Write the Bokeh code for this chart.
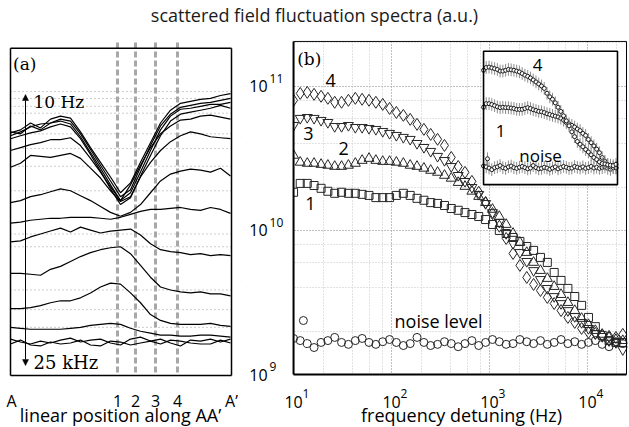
import math
from bokeh.plotting import figure
from bokeh.layouts import column, row
from bokeh.models import Range1d, Arrow, NormalHead, LogScale, LogTicker
from bokeh.core.properties import value
from bokeh.embed import file_html
from bokeh.resources import INLINE

SANS = "Open Sans"
SERIF = "DejaVu Serif"
TITLE = "scattered field fluctuation spectra (a.u.)"
A_XLABEL = "linear position along AA\u2019"
B_XLABEL = "frequency detuning (Hz)"

# ---------------- panel (a): traces along AA' (offset spectra, a.u., top = 10 Hz) ----------------
a_position = [0, 1, 2, 3, 4, 5, 6, 7, 8, 9, 10, 11, 12, 13, 14, 15, 16, 17, 18, 19, 20, 21, 22]
a_tick_pos = [0.1, 10.7, 12.5, 14.5, 16.7, 22.1]
a_tick_labels = ["A", "1", "2", "3", "4", "A\u2019"]
a_marker_pos = [10.7, 12.5, 14.5, 16.7]
a_grid_levels = [85, 92, 100, 107, 128, 143, 161, 186, 230, 243, 287, 307, 325]

a_trace_01 = [127, 124, 117, 122, 113, 110, 112, 126, 142, 157, 172, 188, 178, 157, 137, 117, 104, 97, 95, 93, 92, 89, 87]
a_trace_02 = [130, 126, 121, 118, 117, 113, 115, 128, 144, 160, 176, 192, 185, 162, 140, 120, 108, 101, 99, 97, 96, 94, 92]
a_trace_03 = [126, 128, 120, 124, 117, 115, 118, 131, 147, 163, 180, 196, 188, 167, 145, 124, 110, 103, 102, 100, 98, 98, 96]
a_trace_04 = [133, 130, 127, 125, 121, 118, 121, 133, 149, 166, 184, 200, 193, 171, 150, 130, 115, 108, 106, 104, 102, 99, 102]
a_trace_05 = [145, 142, 139, 137, 134, 134, 132, 140, 153, 167, 182, 196, 180, 160, 142, 128, 120, 114, 113, 110, 109, 111, 113]
a_trace_06 = [162, 158, 150, 151, 152, 150, 148, 153, 163, 173, 186, 197, 192, 172, 157, 145, 136, 130, 126, 128, 131, 132, 133]
a_trace_07 = [198, 196, 192, 190, 187, 184, 186, 191, 196, 202, 208, 212, 208, 200, 188, 176, 169, 166, 164, 165, 167, 163, 171]
a_trace_08 = [219, 218, 216, 215, 214, 214, 213, 213, 213, 214, 215, 213, 210, 207, 205, 205, 204, 203, 205, 206, 203, 205, 209]
a_trace_09 = [238, 237, 233, 230, 227, 224, 228, 223, 226, 229, 227, 226, 225, 231, 240, 246, 248, 249, 251, 250, 252, 251, 252]
a_trace_10 = [270, 270, 271, 272, 266, 263, 258, 253, 249, 246, 244, 243, 250, 262, 274, 284, 287, 289, 290, 289, 291, 291, 293]
a_trace_11 = [306, 306, 305, 303, 300, 298, 298, 295, 290, 284, 280, 281, 290, 300, 312, 318, 321, 322, 322, 322, 321, 323, 324]
a_trace_12 = [325, 326, 327, 327, 327, 327, 326, 325, 323, 322, 321, 322, 326, 329, 331, 333, 333, 334, 334, 333, 333, 334, 335]
a_trace_13 = [337, 340, 342, 339, 341, 338, 336, 340, 338, 337, 341, 343, 337, 335, 339, 337, 341, 344, 338, 339, 337, 340, 337]
a_trace_14 = [342, 338, 343, 344, 340, 342, 341, 338, 343, 344, 339, 340, 343, 341, 339, 342, 338, 339, 341, 342, 342, 338, 341]
a_traces = [a_trace_01, a_trace_02, a_trace_03, a_trace_04, a_trace_05, a_trace_06, a_trace_07,
            a_trace_08, a_trace_09, a_trace_10, a_trace_11, a_trace_12, a_trace_13, a_trace_14]

# ---------------- panel (b): spectra vs frequency detuning ----------------
freq_hz = [10, 11.7, 13.8, 16.2, 19.1, 22.4, 26.3, 30.9, 36.3, 42.7,
           50.1, 58.9, 69.2, 81.3, 95.5, 112, 132, 155, 182, 214,
           251, 295, 347, 407, 479, 562, 661, 776, 912, 1072,
           1259, 1479, 1738, 2042, 2399, 2818, 3311, 3890, 4571, 5370,
           6310, 7413, 8710, 10233, 12023, 14125, 16596, 19498, 22909]
spec_1 = [1.84e10, 2.12e10, 2.12e10, 2.05e10, 1.96e10, 1.87e10, 1.81e10, 1.84e10, 1.81e10, 1.81e10,
          1.78e10, 1.75e10, 1.69e10, 1.69e10, 1.69e10, 1.75e10, 1.81e10, 1.75e10, 1.67e10, 1.62e10,
          1.56e10, 1.54e10, 1.49e10, 1.42e10, 1.38e10, 1.33e10, 1.29e10, 1.25e10, 1.19e10, 1.10e10,
          1.00e10, 9.53e9, 8.94e9, 8.39e9, 7.74e9, 7.27e9, 6.50e9, 6.00e9, 5.11e9, 4.50e9,
          3.96e9, 3.48e9, 3.02e9, 2.49e9, 2.15e9, 1.87e9, 1.72e9, 1.67e9, 1.67e9]
spec_2 = [3.32e10, 2.97e10, 2.92e10, 2.92e10, 2.87e10, 2.83e10, 2.78e10, 2.78e10, 2.83e10, 2.92e10,
          3.06e10, 3.16e10, 3.06e10, 3.01e10, 3.01e10, 2.97e10, 2.92e10, 2.83e10, 2.78e10, 2.70e10,
          2.61e10, 2.53e10, 2.41e10, 2.30e10, 2.15e10, 2.02e10, 1.87e10, 1.72e10, 1.56e10, 1.40e10,
          1.25e10, 1.10e10, 9.53e9, 8.26e9, 7.03e9, 6.00e9, 5.27e9, 4.64e9, 4.08e9, 3.59e9,
          3.16e9, 2.78e9, 2.45e9, 2.22e9, 2.02e9, 1.90e9, 1.81e9, 1.75e9, 1.72e9]
spec_3 = [5.36e10, 6.00e10, 6.09e10, 6.00e10, 5.81e10, 5.62e10, 5.27e10, 5.27e10, 5.36e10, 5.19e10,
          5.19e10, 5.11e10, 5.03e10, 4.87e10, 4.72e10, 4.57e10, 4.43e10, 4.29e10, 4.02e10, 3.77e10,
          3.54e10, 3.27e10, 3.06e10, 2.78e10, 2.41e10, 2.19e10, 1.99e10, 1.78e10, 1.54e10, 1.33e10,
          1.14e10, 9.53e9, 8.12e9, 7.03e9, 6.10e9, 5.27e9, 4.57e9, 3.96e9, 3.48e9, 3.11e9,
          2.78e9, 2.53e9, 2.30e9, 2.09e9, 1.93e9, 1.84e9, 1.72e9, 1.67e9, 1.49e9]
spec_4 = [8.00e10, 8.93e10, 9.08e10, 8.80e10, 8.53e10, 8.26e10, 7.75e10, 7.75e10, 8.00e10, 8.26e10,
          8.13e10, 8.00e10, 7.75e10, 7.50e10, 7.03e10, 6.59e10, 6.29e10, 5.90e10, 5.45e10, 5.03e10,
          4.64e10, 4.29e10, 3.89e10, 3.21e10, 2.78e10, 2.53e10, 2.19e10, 1.84e10, 1.56e10, 1.31e10,
          1.07e10, 8.80e9, 6.92e9, 5.72e9, 4.72e9, 4.22e9, 3.83e9, 3.43e9, 3.11e9, 2.78e9,
          2.49e9, 2.30e9, 2.09e9, 1.96e9, 1.93e9, 1.87e9, 1.84e9, 1.81e9, 1.90e9]
spec_noise = [1.78e9, 1.72e9, 1.64e9, 1.54e9, 1.67e9, 1.72e9, 1.81e9, 1.67e9, 1.62e9, 1.72e9,
              1.78e9, 1.67e9, 1.62e9, 1.69e9, 1.75e9, 1.67e9, 1.59e9, 1.64e9, 1.81e9, 1.67e9,
              1.59e9, 1.62e9, 1.69e9, 1.64e9, 1.56e9, 1.64e9, 1.72e9, 1.59e9, 1.67e9, 1.75e9,
              1.69e9, 1.62e9, 1.64e9, 1.75e9, 1.69e9, 1.64e9, 1.72e9, 1.62e9, 1.67e9, 1.75e9,
              1.64e9, 1.69e9, 1.62e9, 1.67e9, 1.72e9, 1.62e9, 1.56e9, 1.69e9, 1.64e9]
noise_outlier_hz = [12.6]
noise_outlier = [2.37e9]
err_dex = 0.11   # half-width of the inset error bars (decades)

b_xticks = [10, 100, 1000, 10000]
b_xtick_exp = ["1", "2", "3", "4"]
b_yticks = [1e9, 1e10, 1e11]
b_ytick_exp = ["9", "10", "11"]

# ---------------- layout constants ----------------
W_TOTAL = 628
TITLE_H = 26
PANEL_H = 400
W1 = 245
W2 = W_TOTAL - W1

# plotted box of panel (b) (data coords) and the larger frame around it (room for tick labels)
B_BOX_X = (10, 25000)
B_BOX_Y = (1e9, 2.05e11)
B_FRAME_X = (3.31, 25600)
B_FRAME_Y = (4.36e8, 2.08e11)
B_TICK_Y = 6.49e8     # row of the x tick labels
B_LABEL_Y = 5.27e8    # row of the x axis title

# ---------------- title strip ----------------
pt = figure(width=W_TOTAL, height=TITLE_H, x_range=Range1d(0, 1), y_range=Range1d(0, 1),
            output_backend="svg", toolbar_location=None, x_axis_location=None, y_axis_location=None,
            min_border=0, outline_line_color=None)
pt.grid.visible = False
pt.text(x=[0.5], y=[0.44], text=[TITLE], text_font=value(SANS), text_font_size="18px",
        text_align="center", text_baseline="middle", text_color="#1a1a1a")

# ---------------- panel (a) ----------------
pa = figure(width=W1, height=PANEL_H, x_range=Range1d(-0.8, 23.0), y_range=Range1d(426, 33),
            output_backend="svg", toolbar_location=None, x_axis_location=None, y_axis_location=None,
            min_border_left=2, min_border_right=5, min_border_top=7, min_border_bottom=0,
            outline_line_color=None)
pa.grid.visible = False

n_g = len(a_grid_levels)
pa.segment(x0=[0] * n_g, y0=a_grid_levels, x1=[22.1] * n_g, y1=a_grid_levels,
           line_color="#999999", line_width=1, line_dash="1 3")
n_m = len(a_marker_pos)
pa.segment(x0=a_marker_pos, y0=[35] * n_m, x1=a_marker_pos, y1=[374] * n_m,
           line_color="#a8a8a8", line_width=3, line_dash="6 3")

for tr in a_traces:
    pa.line(a_position, tr, line_color="black", line_width=1.2)

# box
pa.segment(x0=[0, 22.1, 0, 0], y0=[41, 41, 41, 374], x1=[0, 22.1, 22.1, 22.1], y1=[374, 374, 41, 374],
           line_color="black", line_width=1.5)

pa.add_layout(Arrow(x_start=1.5, y_start=364, x_end=1.5, y_end=88,
                    line_width=1, line_color="black",
                    start=NormalHead(size=6, fill_color="black", line_width=0.5),
                    end=NormalHead(size=6, fill_color="black", line_width=0.5)))
pa.text(x=[0.25], y=[57], text=["(a)"], text_font=value(SERIF), text_font_size="17px",
        text_align="left", text_baseline="middle", text_color="black")
pa.text(x=[2.3], y=[96], text=["10 Hz"], text_font=value(SERIF), text_font_size="17px",
        text_align="left", text_baseline="middle", text_color="black")
pa.text(x=[2.3], y=[361], text=["25 kHz"], text_font=value(SERIF), text_font_size="18px",
        text_align="left", text_baseline="middle", text_color="black")
# tick labels and axis title
pa.text(x=a_tick_pos, y=[400] * len(a_tick_pos), text=a_tick_labels, text_font=value(SANS),
        text_font_size="16px", text_align="center", text_baseline="middle", text_color="black")
pa.text(x=[11.0], y=[414], text=[A_XLABEL], text_font=value(SANS), text_font_size="18px",
        text_align="center", text_baseline="middle", text_color="black")

# ---------------- panel (b) ----------------
pb = figure(width=W2, height=PANEL_H, x_axis_type="log", y_axis_type="log",
            x_range=Range1d(*B_FRAME_X), y_range=Range1d(*B_FRAME_Y),
            output_backend="svg", toolbar_location=None, x_axis_location=None, y_axis_location=None,
            min_border_left=1, min_border_right=1, min_border_top=14, min_border_bottom=0,
            outline_line_color=None)
pb.xgrid.ticker = LogTicker()
pb.ygrid.ticker = LogTicker()
for g in (pb.xgrid, pb.ygrid):
    g.grid_line_color = "#a0a0a0"
    g.grid_line_dash = "1 2"
    g.minor_grid_line_color = "#c4c4c4"
    g.minor_grid_line_dash = "1 2"

mk = dict(fill_color=None, line_color="#262626", line_width=1)
pb.scatter(freq_hz, spec_noise, marker="circle", size=8, **mk)
pb.scatter(noise_outlier_hz, noise_outlier, marker="circle", size=8, **mk)
pb.scatter(freq_hz, spec_1, marker="square", size=8, **mk)
pb.scatter(freq_hz, spec_2, marker="triangle", size=10, **mk)
pb.scatter(freq_hz, spec_3, marker="inverted_triangle", size=10, **mk)
pb.scatter(freq_hz, spec_4, marker="diamond", size=12, **mk)

# white margins around the plotted box, then the box itself
W = dict(fill_color="white", line_color=None)
pb.quad(left=[B_FRAME_X[0]], right=[B_FRAME_X[1]], bottom=[B_FRAME_Y[0]], top=[B_BOX_Y[0]], **W)
pb.quad(left=[B_BOX_X[1]], right=[B_FRAME_X[1]], bottom=[B_FRAME_Y[0]], top=[B_FRAME_Y[1]], **W)
pb.quad(left=[B_FRAME_X[0]], right=[B_BOX_X[0]], bottom=[B_FRAME_Y[0]], top=[B_FRAME_Y[1]], **W)
pb.segment(x0=[B_BOX_X[0], B_BOX_X[0]], y0=[B_BOX_Y[0], B_BOX_Y[0]],
           x1=[B_BOX_X[1], B_BOX_X[0]], y1=[B_BOX_Y[0], B_BOX_Y[1]],
           line_color="black", line_width=2)
pb.segment(x0=[B_BOX_X[0], B_BOX_X[1]], y0=[B_BOX_Y[1], B_BOX_Y[0]],
           x1=[B_BOX_X[1], B_BOX_X[1]], y1=[B_BOX_Y[1], B_BOX_Y[1]],
           line_color="black", line_width=1)

# tick labels: "10" with a superscript exponent
n_t = len(b_xticks)
pb.text(x=b_xticks, y=[B_TICK_Y] * n_t, text=["10"] * n_t, text_font=value(SANS),
        text_font_size="16px", text_align="center", text_baseline="middle", text_color="black")
pb.text(x=b_xticks, y=[B_TICK_Y] * n_t, text=b_xtick_exp, x_offset=9, y_offset=-8,
        text_font=value(SANS), text_font_size="12px", text_align="left", text_baseline="middle",
        text_color="black")
n_y = len(b_yticks)
pb.text(x=[B_BOX_X[0]] * n_y, y=b_yticks, text=["10"] * n_y, x_offset=-26, text_font=value(SANS),
        text_font_size="16px", text_align="right", text_baseline="middle", text_color="black")
pb.text(x=[B_BOX_X[0]] * n_y, y=b_yticks, text=b_ytick_exp, x_offset=-24, y_offset=-8,
        text_font=value(SANS), text_font_size="12px", text_align="left", text_baseline="middle",
        text_color="black")
pb.text(x=[518], y=[B_LABEL_Y], text=[B_XLABEL], text_font=value(SANS), text_font_size="18px",
        text_align="center", text_baseline="middle", text_color="black")

lab = dict(text_font=value(SANS), text_font_size="18px", text_align="center",
           text_baseline="middle", text_color="black")
pb.text(x=[23.9], y=[1.1e11], text=["4"], **lab)
pb.text(x=[14.2], y=[4.7e10], text=["3"], **lab)
pb.text(x=[32.4], y=[3.7e10], text=["2"], **lab)
pb.text(x=[14.9], y=[1.55e10], text=["1"], **lab)
pb.text(x=[302], y=[2.37e9], text=["noise level"], **lab)
pb.text(x=[10.9], y=[1.55e11], text=["(b)"], text_font=value(SERIF), text_font_size="17px",
        text_align="left", text_baseline="middle", text_color="black")

# ---------------- inset (same spectra, with error bars) ----------------
INSET_BOX_X = (869, 20230)       # where the inset sits, in panel (b) data coords
INSET_BOX_Y = (2.08e10, 1.75e11)
inset_x_lim = (10, 25000)        # what the inset shows
inset_y_lim = (8.5e8, 1.7e11)

def inset_range(frame, box, lim):
    L = math.log10
    scale = (L(lim[1]) - L(lim[0])) / (L(box[1]) - L(box[0]))
    s = L(lim[0]) + (L(frame[0]) - L(box[0])) * scale
    e = L(lim[0]) + (L(frame[1]) - L(box[0])) * scale
    return Range1d(10 ** s, 10 ** e)

pb.extra_x_ranges = {"ix": inset_range(B_FRAME_X, INSET_BOX_X, inset_x_lim)}
pb.extra_y_ranges = {"iy": inset_range(B_FRAME_Y, INSET_BOX_Y, inset_y_lim)}
pb.extra_x_scales = {"ix": LogScale()}
pb.extra_y_scales = {"iy": LogScale()}
IN = dict(x_range_name="ix", y_range_name="iy")

pb.quad(left=[inset_x_lim[0]], right=[inset_x_lim[1]], bottom=[inset_y_lim[0]], top=[inset_y_lim[1]],
        fill_color="white", line_color=None, **IN)
for xs, ys in ((freq_hz, spec_noise), (noise_outlier_hz, noise_outlier), (freq_hz, spec_1), (freq_hz, spec_4)):
    lo = [v / 10 ** err_dex for v in ys]
    hi = [v * 10 ** err_dex for v in ys]
    pb.segment(x0=xs, y0=lo, x1=xs, y1=hi, line_color="#8c8c8c", line_width=1, **IN)
    pb.scatter(xs, ys, marker="circle", size=4, fill_color="white", line_color="#1a1a1a",
               line_width=1, **IN)
pb.quad(left=[inset_x_lim[0]], right=[inset_x_lim[1]], bottom=[inset_y_lim[0]], top=[inset_y_lim[1]],
        fill_color=None, line_color="black", line_width=1.6, **IN)
ilab = dict(text_font=value(SANS), text_font_size="17px", text_align="center",
            text_baseline="middle", text_color="black")
pb.text(x=[234], y=[9.8e10], text=["4"], **IN, **ilab)
pb.text(x=[27], y=[7.3e9], text=["1"], **IN, **ilab)
pb.text(x=[279], y=[2.7e9], text=["noise"], **IN, **ilab)

layout = column(pt, row(pa, pb))
open("out.html", "w").write(file_html(layout, INLINE))
